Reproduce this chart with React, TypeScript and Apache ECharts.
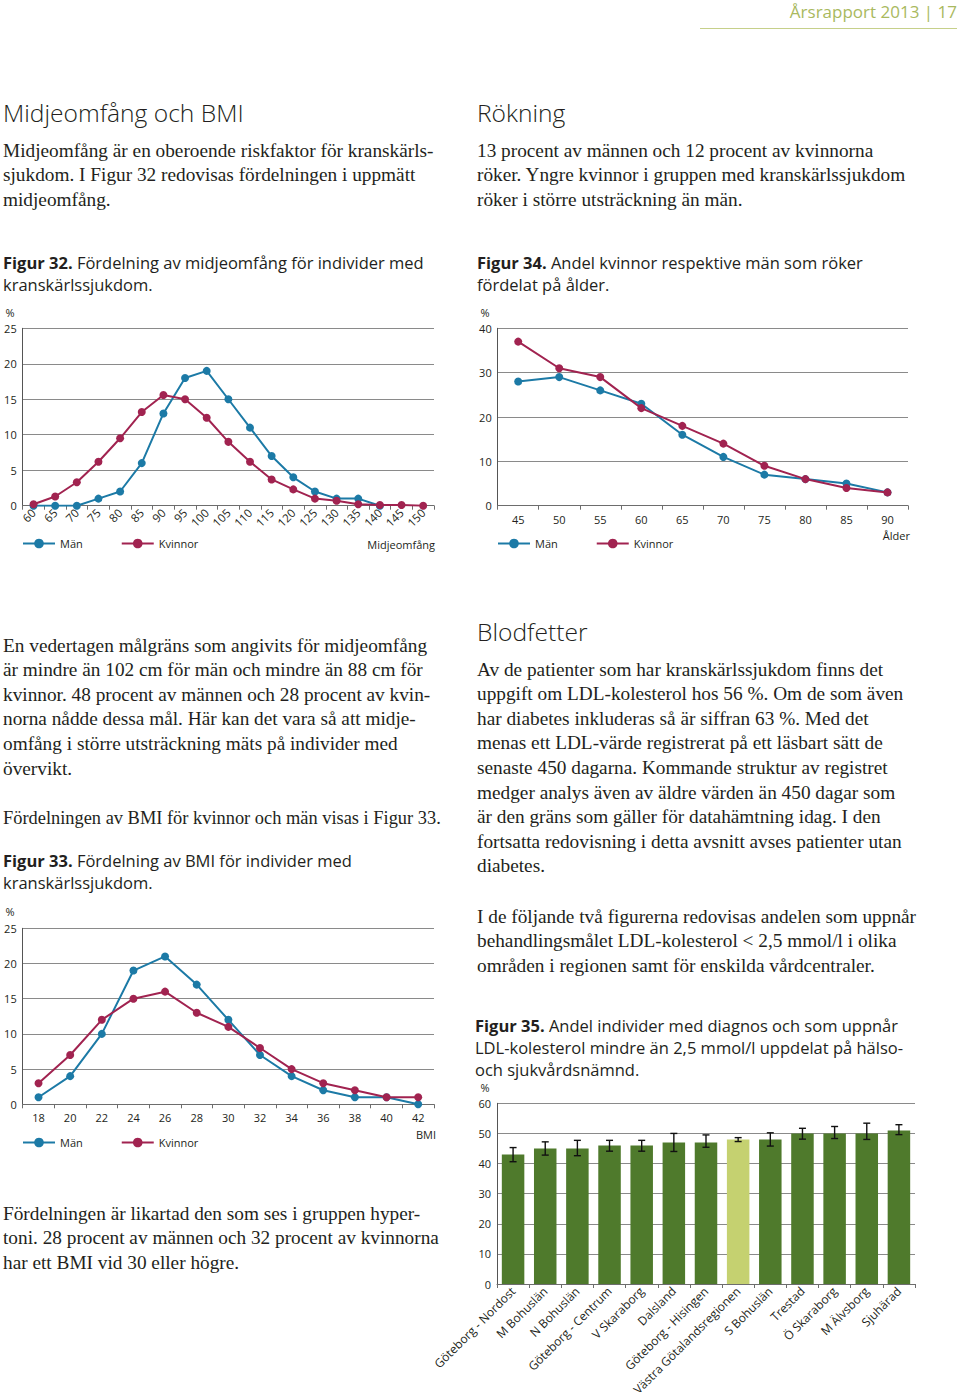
import React, { useEffect, useRef } from "react";
import * as echarts from "echarts";

// ---------- DATA ----------
const waistCategories = ["60","65","70","75","80","85","90","95","100","105","110","115","120","125","130","135","140","145","150"];
const waistMen = [0, 0, 0, 1, 2, 6, 13, 18, 19, 15, 11, 7, 4, 2, 1, 1, 0, null, null];
const waistWomen = [0.2, 1.3, 3.3, 6.2, 9.5, 13.2, 15.6, 15, 12.4, 9, 6.2, 3.7, 2.3, 1, 0.7, 0.2, 0.1, 0.1, 0];

const ageCategories = ["45","50","55","60","65","70","75","80","85","90"];
const smokeMen = [28, 29, 26, 23, 16, 11, 7, 6, 5, 3];
const smokeWomen = [37, 31, 29, 22, 18, 14, 9, 6, 4, 3];

const bmiCategories = ["18","20","22","24","26","28","30","32","34","36","38","40","42"];
const bmiMen = [1, 4, 10, 19, 21, 17, 12, 7, 4, 2, 1, 1, 0];
const bmiWomen = [3, 7, 12, 15, 16, 13, 11, 8, 5, 3, 2, 1, 1];

const regionNames = ["Göteborg - Nordost","M Bohuslän","N Bohuslän","Göteborg - Centrum","V Skaraborg","Dalsland","Göteborg - Hisingen","Västra Götalandsregionen","S Bohuslän","Trestad","Ö Skaraborg","M Älvsborg","Sjuhärad"];
const ldlValues = [43, 45, 45, 46, 46, 47, 47, 48, 48, 50, 50, 50, 51];
const ldlLow = [40.6, 42.8, 42.6, 44.1, 44.1, 44, 45.4, 47.3, 45.8, 48.1, 48.3, 48, 49.6];
const ldlHigh = [45.3, 47.2, 47.7, 47.7, 47.7, 50, 49.5, 48.6, 50.2, 51.7, 52.3, 53.4, 52.9];
const highlightRegion = "Västra Götalandsregionen";

const waistTicks = { min: 0, max: 25, interval: 5 };
const ageTicks = { min: 0, max: 40, interval: 10 };
const bmiTicks = { min: 0, max: 25, interval: 5 };
const ldlTicks = { min: 0, max: 60, interval: 10 };

// ---------- STYLE ----------
const SANS = '"Open Sans", "Noto Sans", sans-serif';
const SERIF = '"Liberation Serif", "DejaVu Serif", serif';
const INK = "#231f20";
const BLUE = "#1c7aa6";
const RED = "#a12350";
const GREEN = "#4f7a2c";
const LIGHTGREEN = "#c5d170";
const GRIDC = "#8a8a8a";

function lines(x: number, y0: number, lh: number, arr: string[], style: any) {
  return arr.map((t, i) => ({
    type: "text",
    x,
    y: y0 + i * lh,
    silent: true,
    style: { text: t, verticalAlign: "middle", align: "left", fill: INK, ...style },
  }));
}

const CAP = 16.5;
function caption(x: number, y0: number, arr: string[]) {
  return arr.map((t, i) => ({
    type: "text",
    x,
    y: y0 + i * 22,
    silent: true,
    style: {
      text: t,
      verticalAlign: "middle",
      align: "left",
      fill: INK,
      fontFamily: SANS,
      fontSize: CAP,
      rich: { b: { fontWeight: "bold", fontFamily: SANS, fontSize: CAP, fill: INK } },
    },
  }));
}

function small(x: number, y: number, t: string, align = "left") {
  return { type: "text", x, y, silent: true, style: { text: t, verticalAlign: "middle", align, fill: INK, fontFamily: SANS, fontSize: 11 } };
}

const serif = { fontFamily: SERIF, fontSize: 19.3 };
const heading = { fontFamily: SANS, fontSize: 24.6, fontWeight: 300 };

function xCat(gridIndex: number, data: string[], rotate: number, fontSize = 11) {
  return {
    gridIndex,
    type: "category",
    data,
    boundaryGap: true,
    axisLine: { lineStyle: { color: "#6d6d6d", width: 1 } },
    axisTick: { show: true, length: 4, lineStyle: { color: "#6d6d6d" } },
    axisLabel: { rotate, interval: 0, fontSize, color: INK, fontFamily: SANS, margin: rotate ? 5 : 8 },
    splitLine: { show: false },
  };
}

function yVal(gridIndex: number, t: { min: number; max: number; interval: number }) {
  return {
    gridIndex,
    type: "value",
    min: t.min,
    max: t.max,
    interval: t.interval,
    axisLine: { show: true, lineStyle: { color: "#555", width: 1 } },
    axisTick: { show: false },
    axisLabel: { fontSize: 11, color: INK, fontFamily: SANS, margin: 6 },
    splitLine: { show: true, lineStyle: { color: GRIDC, width: 1 } },
  };
}

function lineSeries(name: string, color: string, data: any[], idx: number) {
  return {
    type: "line",
    name,
    xAxisIndex: idx,
    yAxisIndex: idx,
    data,
    symbol: "circle",
    symbolSize: 8,
    showAllSymbol: true,
    lineStyle: { color, width: 2 },
    itemStyle: { color },
    z: name === "Kvinnor" ? 4 : 3,
  };
}

function legend(left: number, top: number) {
  return {
    left,
    top,
    padding: 0,
    data: ["Män", "Kvinnor"],
    itemWidth: 32,
    itemHeight: 12,
    itemGap: 38,
    selectedMode: false,
    textStyle: { fontSize: 11, color: INK, fontFamily: SANS },
  };
}

function grid(left: number, top: number, width: number, height: number) {
  return { left, top, width, height, containLabel: false, outerBoundsMode: "none" };
}

export default function App() {
  const ref = useRef<HTMLDivElement>(null);

  useEffect(() => {
    if (!ref.current) return;
    const chart = echarts.init(ref.current, null, { renderer: "svg" });

    const barData = ldlValues.map((v, i) => ({
      value: v,
      itemStyle: { color: regionNames[i] === highlightRegion ? LIGHTGREEN : GREEN },
    }));
    const errData = ldlValues.map((_, i) => [i, ldlLow[i], ldlHigh[i]]);

    const graphics: any[] = [
      { type: "text", x: 957, y: 11, silent: true, style: { text: "Årsrapport 2013 | 17", align: "right", verticalAlign: "middle", fill: "#a9b95e", fontFamily: SANS, fontSize: 17 } },
      { type: "line", silent: true, shape: { x1: 700, y1: 28.5, x2: 957, y2: 28.5 }, style: { stroke: "#c6d08a", lineWidth: 1 } },
      ...lines(3, 112, 0, ["Midjeomfång och BMI"], heading),
      ...lines(477, 112, 0, ["Rökning"], heading),
      ...lines(3, 150, 24.8, [
        "Midjeomfång är en oberoende riskfaktor för kranskärls-",
        "sjukdom. I Figur 32 redovisas fördelningen i uppmätt",
        "midjeomfång.",
      ], serif),
      ...lines(477, 150, 24.8, [
        "13 procent av männen och 12 procent av kvinnorna",
        "röker. Yngre kvinnor i gruppen med kranskärlssjukdom",
        "röker i större utsträckning än män.",
      ], serif),
      ...caption(3, 262, ["{b|Figur 32.} Fördelning av midjeomfång för individer med", "kranskärlssjukdom."]),
      ...caption(477, 262, ["{b|Figur 34.} Andel kvinnor respektive män som röker", "fördelat på ålder."]),
      small(10, 312, "%", "center"),
      small(485, 312, "%", "center"),
      small(435, 544, "Midjeomfång", "right"),
      small(910, 535, "Ålder", "right"),
      ...lines(3, 645, 24.6, [
        "En vedertagen målgräns som angivits för midjeomfång",
        "är mindre än 102 cm för män och mindre än 88 cm för",
        "kvinnor. 48 procent av männen och 28 procent av kvin-",
        "norna nådde dessa mål. Här kan det vara så att midje-",
        "omfång i större utsträckning mäts på individer med",
        "övervikt.",
      ], serif),
      ...lines(3, 818, 0, ["Fördelningen av BMI för kvinnor och män visas i Figur 33."], { ...serif, fontSize: 18.4 }),
      ...caption(3, 860, ["{b|Figur 33.} Fördelning av BMI för individer med", "kranskärlssjukdom."]),
      small(10, 911, "%", "center"),
      small(436, 1134, "BMI", "right"),
      ...lines(477, 631, 0, ["Blodfetter"], heading),
      ...lines(477, 669, 24.6, [
        "Av de patienter som har kranskärlssjukdom finns det",
        "uppgift om LDL-kolesterol hos 56 %. Om de som även",
        "har diabetes inkluderas så är siffran 63 %. Med det",
        "menas ett LDL-värde registrerat på ett läsbart sätt de",
        "senaste 450 dagarna. Kommande struktur av registret",
        "medger analys även av äldre värden än 450 dagar som",
        "är den gräns som gäller för datahämtning idag. I den",
        "fortsatta redovisning i detta avsnitt avses patienter utan",
        "diabetes.",
      ], serif),
      ...lines(477, 916, 24.8, [
        "I de följande två figurerna redovisas andelen som uppnår",
        "behandlingsmålet LDL-kolesterol < 2,5 mmol/l i olika",
        "områden i regionen samt för enskilda vårdcentraler.",
      ], serif),
      ...caption(475, 1025, [
        "{b|Figur 35.} Andel individer med diagnos och som uppnår",
        "LDL-kolesterol mindre än 2,5 mmol/l uppdelat på hälso-",
        "och sjukvårdsnämnd.",
      ]),
      small(485, 1087, "%", "center"),
      ...lines(3, 1213, 24.6, [
        "Fördelningen är likartad den som ses i gruppen hyper-",
        "toni. 28 procent av männen och 32 procent av kvinnorna",
        "har ett BMI vid 30 eller högre.",
      ], serif),
    ];

    const option: any = {
      animation: false,
      backgroundColor: "#ffffff",
      grid: [
        grid(22.7, 328.3, 411.3, 177.4),
        grid(497.7, 328.3, 410.3, 177.4),
        grid(22.7, 928.3, 411.3, 176),
        grid(497, 1103.3, 418, 180.7),
      ],
      xAxis: [
        xCat(0, waistCategories, 45, 11.5),
        xCat(1, ageCategories, 0),
        xCat(2, bmiCategories, 0),
        xCat(3, regionNames, 45, 12),
      ],
      yAxis: [yVal(0, waistTicks), yVal(1, ageTicks), yVal(2, bmiTicks), yVal(3, ldlTicks)],
      legend: [legend(22, 538), legend(497, 538), legend(22, 1137)],
      series: [
        lineSeries("Män", BLUE, waistMen, 0),
        lineSeries("Kvinnor", RED, waistWomen, 0),
        lineSeries("Män", BLUE, smokeMen, 1),
        lineSeries("Kvinnor", RED, smokeWomen, 1),
        lineSeries("Män", BLUE, bmiMen, 2),
        lineSeries("Kvinnor", RED, bmiWomen, 2),
        {
          type: "bar",
          name: "LDL",
          xAxisIndex: 3,
          yAxisIndex: 3,
          data: barData,
          barWidth: "70%",
          z: 2,
        },
        {
          type: "custom",
          name: "Felstaplar",
          xAxisIndex: 3,
          yAxisIndex: 3,
          data: errData,
          z: 5,
          renderItem: (params: any, api: any) => {
            const x = api.value(0);
            const lo = api.coord([x, api.value(1)]);
            const hi = api.coord([x, api.value(2)]);
            const w = 3.5;
            const st = { stroke: "#111", lineWidth: 1.4 };
            return {
              type: "group",
              children: [
                { type: "line", shape: { x1: lo[0], y1: lo[1], x2: hi[0], y2: hi[1] }, style: st },
                { type: "line", shape: { x1: hi[0] - w, y1: hi[1], x2: hi[0] + w, y2: hi[1] }, style: st },
                { type: "line", shape: { x1: lo[0] - w, y1: lo[1], x2: lo[0] + w, y2: lo[1] }, style: st },
              ],
            };
          },
        },
      ],
      graphic: graphics,
    };

    chart.setOption(option);
    return () => chart.dispose();
  }, []);

  return (
    <div
      ref={ref}
      style={{ position: "absolute", left: 0, top: 0, width: 960, height: 1392, background: "#fff" }}
    />
  );
}
